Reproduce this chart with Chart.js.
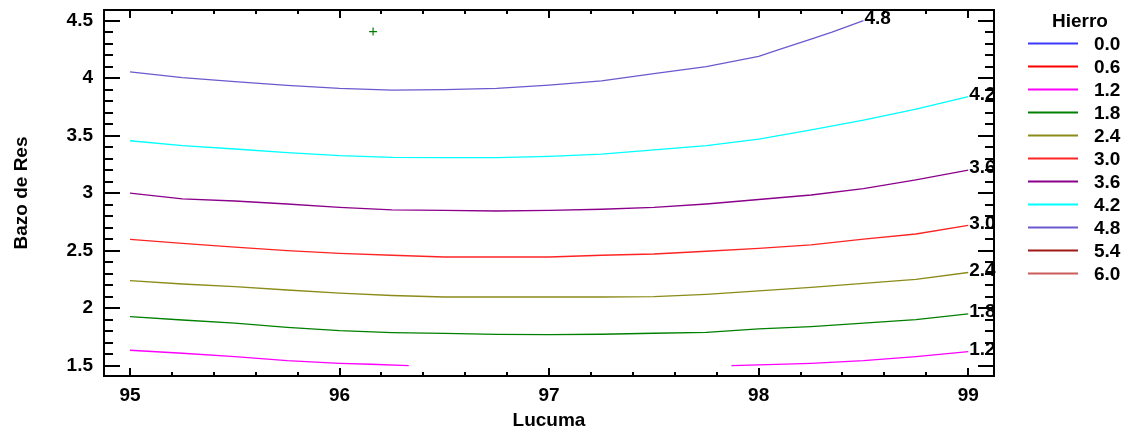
<!DOCTYPE html>
<html lang="es">
<head>
  <meta charset="UTF-8" />
  <title>Contornos de Hierro</title>
  <script src="https://cdn.jsdelivr.net/npm/chart.js"></script>
  <style>
    html, body { margin: 0; padding: 0; background: #fff; }
  </style>
</head>
<body>
  <canvas id="contornos" width="1127" height="430"></canvas>

  <script>
    // niveles de la leyenda y sus colores
    const niveles = ['0.0', '0.6', '1.2', '1.8', '2.4', '3.0', '3.6', '4.2', '4.8', '5.4', '6.0'];
    const colores = ['#3a3aff', '#ff0000', '#ff00ff', '#008000', '#8b8b1a', '#ff2424',
                     '#8b008b', '#00ffff', '#6a5acd', '#a01818', '#cd5c5c'];

    const xTicks = [95, 96, 97, 98, 99];
    const yTicks = [1.5, 2, 2.5, 3, 3.5, 4, 4.5];

    // Lucuma comun para casi todas las curvas
    const lucuma = [95, 95.25, 95.5, 95.75, 96, 96.25, 96.5, 96.75, 97, 97.25, 97.5, 97.75, 98, 98.25, 98.5, 98.75, 99];
    const bazo18 = [1.926, 1.897, 1.869, 1.833, 1.804, 1.787, 1.780, 1.772, 1.770, 1.773, 1.782, 1.790, 1.819, 1.840, 1.869, 1.900, 1.950];
    const bazo24 = [2.239, 2.210, 2.187, 2.158, 2.130, 2.110, 2.097, 2.097, 2.097, 2.097, 2.100, 2.120, 2.150, 2.180, 2.216, 2.250, 2.310];
    const bazo30 = [2.599, 2.564, 2.530, 2.500, 2.477, 2.460, 2.445, 2.445, 2.445, 2.460, 2.471, 2.495, 2.520, 2.550, 2.600, 2.645, 2.720];
    const bazo36 = [3.000, 2.950, 2.932, 2.906, 2.877, 2.855, 2.850, 2.845, 2.850, 2.860, 2.877, 2.906, 2.945, 2.984, 3.040, 3.115, 3.200];
    const bazo42 = [3.456, 3.413, 3.384, 3.352, 3.326, 3.312, 3.310, 3.310, 3.320, 3.340, 3.376, 3.413, 3.470, 3.550, 3.636, 3.730, 3.840];

    // la curva 4.8 termina en el borde superior
    const lucuma48 = [95, 95.25, 95.5, 95.75, 96, 96.25, 96.5, 96.75, 97, 97.25, 97.5, 97.75, 98, 98.1, 98.25, 98.35, 98.5];
    const bazo48 = [4.054, 4.005, 3.970, 3.938, 3.912, 3.897, 3.900, 3.912, 3.940, 3.976, 4.040, 4.100, 4.190, 4.250, 4.340, 4.400, 4.500];

    // la curva 1.2 sale por abajo y vuelve a entrar (null = hueco)
    const lucuma12 = [95, 95.25, 95.5, 95.75, 96, 96.15, 96.33, 97.1, 97.87, 98, 98.25, 98.5, 98.75, 99];
    const bazo12 = [1.634, 1.608, 1.578, 1.543, 1.520, 1.512, 1.500, null, 1.500, 1.507, 1.520, 1.543, 1.578, 1.622];

    // punto marcado
    const puntoLucuma = [96.16];
    const puntoBazo = [4.405];

    const puntos = (xs, ys) => xs.map((x, i) => ({x: x, y: ys[i]}));
    const curvas = {
      '1.2': puntos(lucuma12, bazo12),
      '1.8': puntos(lucuma, bazo18),
      '2.4': puntos(lucuma, bazo24),
      '3.0': puntos(lucuma, bazo30),
      '3.6': puntos(lucuma, bazo36),
      '4.2': puntos(lucuma, bazo42),
      '4.8': puntos(lucuma48, bazo48)
    };

    const datasets = niveles.map((n, i) => ({
      label: n,
      data: curvas[n] || [],
      borderColor: colores[i],
      backgroundColor: colores[i],
      borderWidth: 1.3,
      pointRadius: 0,
      tension: 0,
      spanGaps: false
    }));
    datasets.push({
      type: 'scatter',
      label: 'punto',
      data: puntos(puntoLucuma, puntoBazo),
      pointStyle: 'cross',
      pointRadius: 4,
      borderColor: '#008000',
      borderWidth: 1.2
    });

    const FUENTE = 'bold 19px "Liberation Sans", Arial, sans-serif';

    // marco con marcas hacia adentro
    const marco = {
      id: 'marco',
      beforeDatasetsDraw(chart) {
        const {ctx, chartArea: a, scales: {x, y}} = chart;
        ctx.save();
        ctx.strokeStyle = '#000';
        ctx.lineWidth = 2;
        ctx.strokeRect(a.left, a.top, a.right - a.left, a.bottom - a.top);
        ctx.beginPath();
        for (let k = 0; k <= 20; k++) {
          const px = Math.round(x.getPixelForValue(95 + k * 0.2));
          const len = k % 5 === 0 ? 8 : 4;
          ctx.moveTo(px, a.top); ctx.lineTo(px, a.top + len);
          ctx.moveTo(px, a.bottom); ctx.lineTo(px, a.bottom - len);
        }
        for (let k = 0; k <= 30; k++) {
          const py = Math.round(y.getPixelForValue(1.5 + k * 0.1));
          const len = k % 5 === 0 ? 16 : 9;
          ctx.moveTo(a.left, py); ctx.lineTo(a.left + len, py);
          ctx.moveTo(a.right, py); ctx.lineTo(a.right - len, py);
        }
        ctx.stroke();
        ctx.restore();
      }
    };

    // etiqueta de nivel al final de cada curva
    const etiquetas = {
      id: 'etiquetas',
      afterDatasetsDraw(chart) {
        const ctx = chart.ctx;
        ctx.save();
        ctx.font = FUENTE;
        ctx.fillStyle = '#000';
        ctx.textAlign = 'left';
        ctx.textBaseline = 'middle';
        niveles.forEach((n, i) => {
          const pts = chart.getDatasetMeta(i).data.filter(p => !p.skip);
          if (!pts.length) return;
          const p = pts[pts.length - 1];
          ctx.fillText(n, p.x + 1, p.y - 2);
        });
        ctx.restore();
      }
    };

    // leyenda "Hierro"
    const leyenda = {
      id: 'leyenda',
      afterDraw(chart) {
        const ctx = chart.ctx;
        ctx.save();
        ctx.font = FUENTE;
        ctx.fillStyle = '#000';
        ctx.textBaseline = 'middle';
        ctx.textAlign = 'center';
        ctx.fillText('Hierro', 1080, 22);
        ctx.textAlign = 'left';
        niveles.forEach((n, i) => {
          const yy = 43.5 + i * 23;
          ctx.strokeStyle = colores[i];
          ctx.lineWidth = 2;
          ctx.beginPath();
          ctx.moveTo(1028, yy); ctx.lineTo(1078, yy);
          ctx.stroke();
          ctx.fillText(n, 1094, yy + 1);
        });
        ctx.restore();
      }
    };

    Chart.defaults.font.family = '"Liberation Sans", Arial, sans-serif';
    Chart.defaults.font.weight = 'bold';
    Chart.defaults.font.size = 19;
    Chart.defaults.color = '#000';

    new Chart(document.getElementById('contornos'), {
      type: 'line',
      data: {datasets: datasets},
      options: {
        responsive: false,
        animation: false,
        layout: {padding: {top: 10, right: 133, bottom: 0, left: 0}},
        plugins: {legend: {display: false}, tooltip: {enabled: false}},
        scales: {
          x: {
            type: 'linear',
            min: 94.876,
            max: 99.123,
            afterBuildTicks: s => { s.ticks = xTicks.map(v => ({value: v})); },
            ticks: {padding: 8, maxRotation: 0, autoSkip: false, callback: v => String(v)},
            grid: {display: false, drawTicks: false},
            border: {display: false},
            title: {display: true, text: 'Lucuma', padding: {top: 0, bottom: -2}},
            afterFit: s => { s.height = 54; s.paddingLeft = 0; s.paddingRight = 0; }
          },
          y: {
            type: 'linear',
            min: 1.41,
            max: 4.593,
            afterBuildTicks: s => { s.ticks = yTicks.map(v => ({value: v})); },
            ticks: {padding: 11, autoSkip: false, callback: v => String(v)},
            grid: {display: false, drawTicks: false},
            border: {display: false},
            title: {display: true, text: 'Bazo de Res', padding: {top: 10, bottom: 0}},
            afterFit: s => { s.width = 104; s.paddingTop = 0; s.paddingBottom = 0; }
          }
        }
      },
      plugins: [marco, etiquetas, leyenda]
    });
  </script>
</body>
</html>
